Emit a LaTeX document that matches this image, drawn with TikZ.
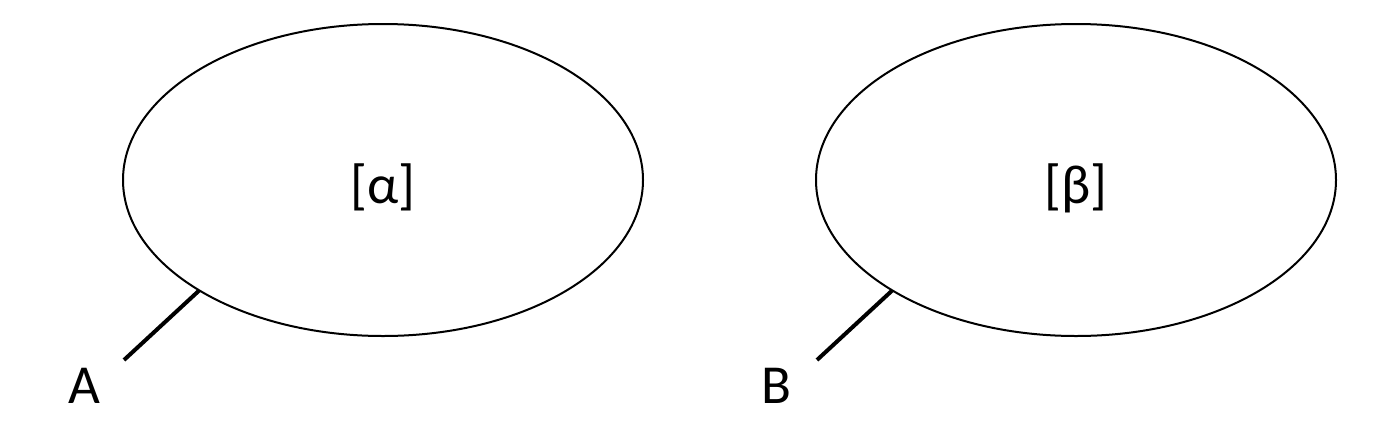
\documentclass[tikz,border=0pt]{standalone}
\usepackage{fontspec}
\setmainfont{Carlito}
\usetikzlibrary{shapes.geometric}
\begin{document}
\begin{tikzpicture}[x=1pt,y=-1pt,
  blob/.style={draw,ellipse,line width=2pt,minimum width=520pt,minimum height=312pt,inner sep=0pt,outer sep=0pt},
  tag/.style={line width=4pt},
  lbl/.style={font=\fontsize{55}{60}\selectfont,inner sep=0pt,anchor=base}]
\useasboundingbox (0,0) rectangle (1387,426);
\node[blob] (e1) at (383,180) {};
\node[blob] (e2) at (1076,180) {};
\node[lbl] (t1) at (383,203) {[α]};
\node[lbl] (t2) at (1076,203) {[β]};
\coordinate (a1) at (124,360);
\coordinate (b1) at (817,360);
\draw[tag] (e1.211) -- (a1);
\draw[tag] (e2.211) -- (b1);
\node[lbl] (la) at (84,403) {A};
\node[lbl] (lb) at (776,403) {B};
\end{tikzpicture}
\end{document}
